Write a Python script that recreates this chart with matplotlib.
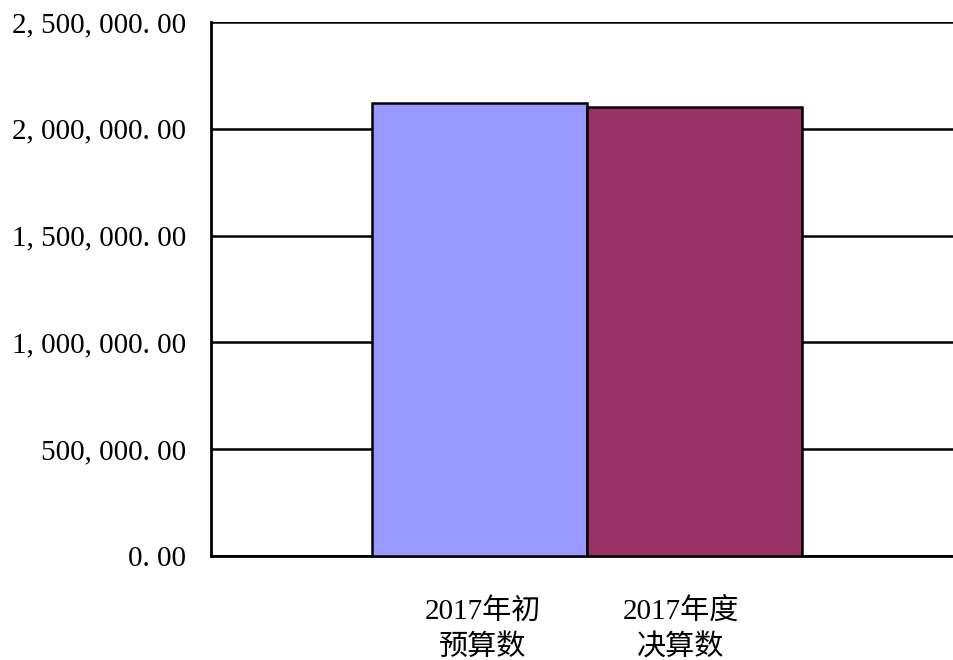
import numpy as np
import matplotlib.pyplot as plt
from matplotlib.ticker import FuncFormatter

# datos
categorias = ['2017年初\n预算数', '2017年度\n决算数']
valores = [2122000, 2101000]
colores = ['#9999FF', '#993366']
y_ticks = [0, 500000, 1000000, 1500000, 2000000, 2500000]

fuente = ['Liberation Serif', 'Noto Sans CJK SC']


def formato(v, pos):
    # estilo "2, 500, 000. 00"
    return '{:,.2f}'.format(v).replace(',', ', ').replace('.', '. ')


fig = plt.figure(figsize=(9.54, 6.6), dpi=100)
ax = fig.add_axes([211 / 954, 1 - 556 / 660, 1 - 211 / 954, (556 - 22) / 660])

x = np.array([-0.25, 0.25])
ax.bar(x, valores, width=0.5, color=colores, edgecolor='black', linewidth=1.8, zorder=3)

ax.set_ylim(0, 2500000)
ax.set_xlim(-0.874, 0.853)
ax.set_yticks(y_ticks)
ax.yaxis.set_major_formatter(FuncFormatter(formato))
ax.grid(axis='y', color='black', linewidth=1.8, zorder=1)
ax.set_axisbelow(True)

# las etiquetas no quedan exactamente centradas bajo las barras
ax.set_xticks([-0.242, 0.218])
ax.set_xticklabels(categorias, family=fuente, fontsize=21, linespacing=1.45)
for lab in ax.get_yticklabels():
    lab.set_family(fuente)
    lab.set_fontsize(21)

ax.tick_params(axis='y', length=0, pad=18)
ax.tick_params(axis='x', length=0, pad=30)

for lado in ['top', 'right']:
    ax.spines[lado].set_visible(False)
ax.spines['left'].set_linewidth(2)
ax.spines['bottom'].set_linewidth(2)

fig.savefig('out.png', dpi=100)
